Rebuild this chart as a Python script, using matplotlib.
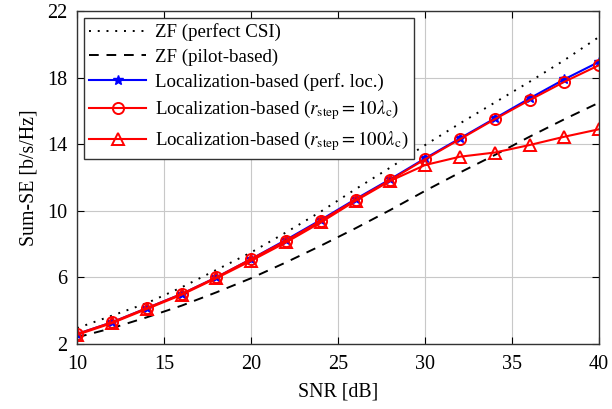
import matplotlib.pyplot as plt
import numpy as np

plt.rcParams['font.family'] = ['Liberation Serif', 'DejaVu Serif']
plt.rcParams['mathtext.fontset'] = 'stix'

snr = [10, 12, 14, 16, 18, 20, 22, 24, 26, 28, 30, 32, 34, 36, 38, 40]
zf_perfect = [2.95, 3.7, 4.45, 5.4, 6.45, 7.5, 8.7, 9.95, 11.3, 12.6, 13.95, 15.25, 16.5, 17.75, 19.05, 20.45]
zf_pilot = [2.4, 2.95, 3.6, 4.3, 5.1, 5.95, 6.9, 7.9, 8.95, 10.05, 11.2, 12.3, 13.35, 14.45, 15.5, 16.5]
loc_perf = [2.6, 3.3, 4.15, 5.0, 6.0, 7.1, 8.25, 9.45, 10.7, 11.9, 13.15, 14.35, 15.55, 16.75, 17.9, 18.95]
loc_10 = [2.6, 3.3, 4.15, 5.0, 6.0, 7.1, 8.2, 9.4, 10.65, 11.85, 13.1, 14.3, 15.5, 16.65, 17.75, 18.75]
loc_100 = [2.55, 3.25, 4.1, 4.95, 5.95, 7.0, 8.1, 9.3, 10.6, 11.8, 12.75, 13.25, 13.5, 13.95, 14.45, 14.9]

fig = plt.figure(figsize=(6.12, 4.09), dpi=100)
ax = fig.add_axes([0.126, 0.159, 0.853, 0.814])

ax.plot(snr, zf_perfect, color='black', linestyle=(0, (1, 3.5)), linewidth=1.4, label='ZF (perfect CSI)')
ax.plot(snr, zf_pilot, color='black', linestyle=(0, (5, 4)), linewidth=1.4, label='ZF (pilot-based)')
ax.plot(snr, loc_perf, color='blue', marker='*', markersize=7, linewidth=1.5,
        label='Localization-based (perf. loc.)')
ax.plot(snr, loc_10, color='red', marker='o', markersize=8, markerfacecolor='none',
        markeredgewidth=1.4, linewidth=1.5,
        label=r'Localization-based ($r_{\mathrm{step}} = 10\lambda_{\mathrm{c}}$)')
ax.plot(snr, loc_100, color='red', marker='^', markersize=8, markerfacecolor='none',
        markeredgewidth=1.4, linewidth=1.5,
        label=r'Localization-based ($r_{\mathrm{step}} = 100\lambda_{\mathrm{c}}$)')

ax.set_xlim(10, 40)
ax.set_ylim(2, 22)
ax.set_xticks([10, 15, 20, 25, 30, 35, 40])
ax.set_yticks([2, 6, 10, 14, 18, 22])
ax.grid(True, color='#c8c8c8', linewidth=0.8)
ax.tick_params(direction='in', top=True, right=True, labelsize=14.5, length=5)
ax.tick_params(axis='x', pad=8)
ax.tick_params(axis='y', pad=7)
for s in ax.spines.values():
    s.set_color('#333333')
    s.set_linewidth(1.0)

ax.set_xlabel('SNR [dB]', fontsize=14.3, labelpad=6)
ax.set_ylabel('Sum-SE [b/s/Hz]', fontsize=14.3, labelpad=6)

leg = ax.legend(loc='upper left', fontsize=13.6, fancybox=False, framealpha=1,
                edgecolor='#333333', handlelength=3.0, borderaxespad=0.35,
                labelspacing=0.38, handletextpad=0.45, borderpad=0.3)
leg.get_frame().set_linewidth(1.0)

fig.savefig('out.png', dpi=100)
